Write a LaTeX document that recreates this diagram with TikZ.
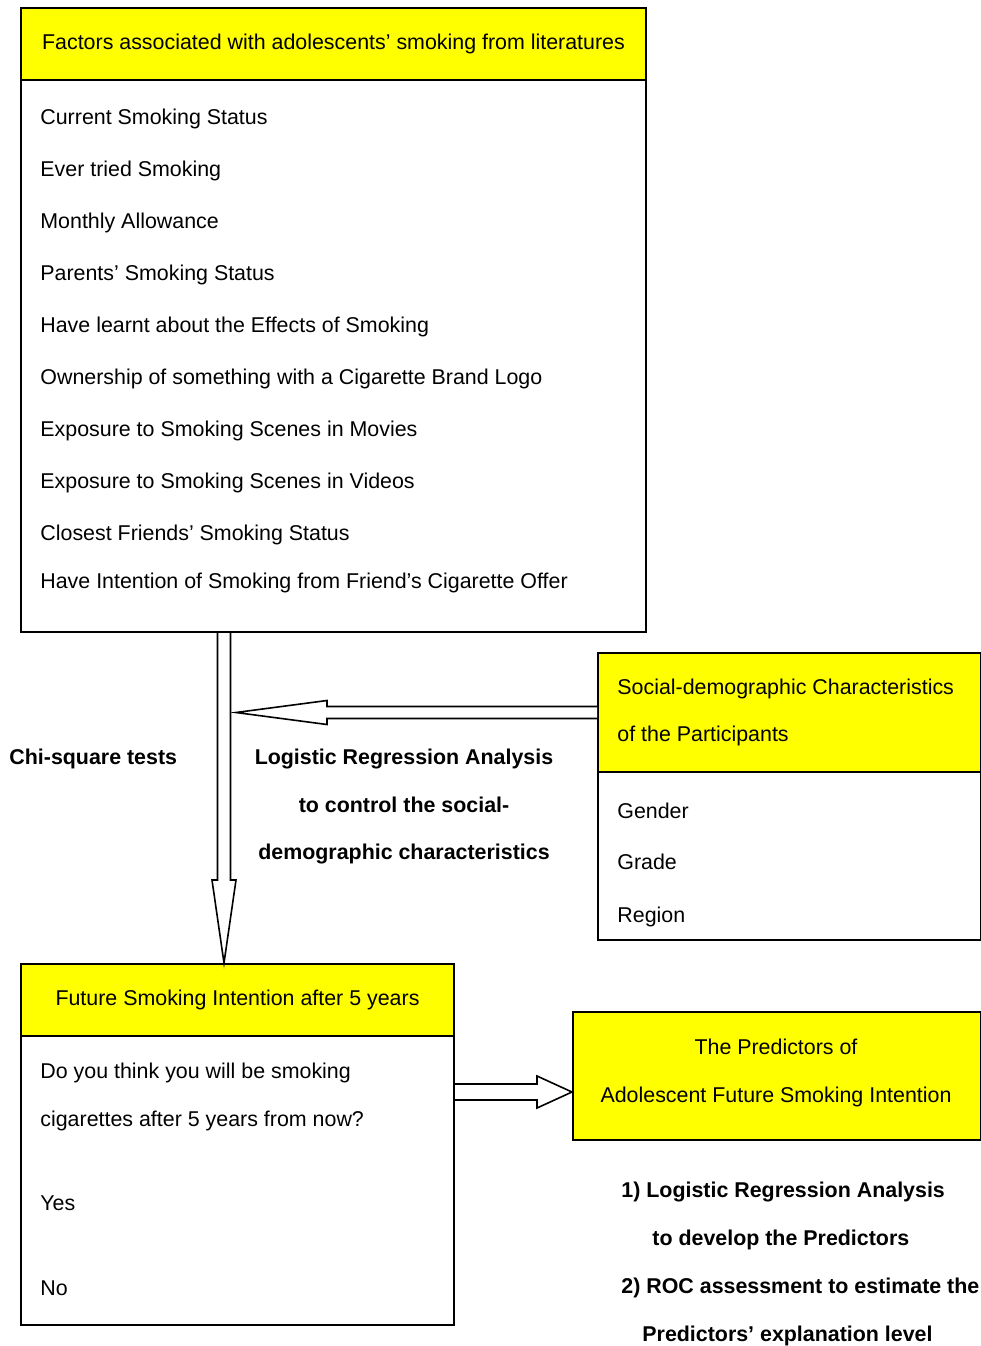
\documentclass[tikz,border=0pt]{standalone}
\usepackage{fontspec}
\setmainfont{Liberation Sans}
\usepackage{tikz}
\usetikzlibrary{positioning,calc}
\definecolor{hdyellow}{RGB}{255, 255, 0}
\newcommand{\pxl}{0.5pt}
\tikzstyle{headbox} = [draw=black, fill=hdyellow, line width=1pt, inner sep=0pt, anchor=north west]
\tikzstyle{bodybox} = [draw=black, fill=white, line width=1pt, inner sep=0pt, anchor=north west]
\tikzstyle{item} = [anchor=west, inner sep=0pt, text height=1.6ex, text depth=.4ex]
\tikzstyle{boldtext} = [font=\fontsize{10.7}{23.75}\selectfont\bfseries]
\tikzstyle{hollow} = [draw=black, fill=white, line width=0.8pt, line join=miter]

\begin{document}
\begin{tikzpicture}[x=0.5pt, y=-0.5pt, font=\fontsize{10.7}{13}\selectfont]
    \useasboundingbox (0,0) rectangle (981,1346);

    % factors from literatures
    \node[bodybox, minimum width=625*\pxl, minimum height=552*\pxl] (lit) at (20,79) {};
    \node[headbox, minimum width=625*\pxl, minimum height=72*\pxl] (lithead) at (20,7)
      {Factors associated with adolescents’ smoking from literatures};
    \foreach \y/\txt [count=\i] in {118/Current Smoking Status, 170/Ever tried Smoking,
        222/Monthly Allowance, 274/Parents’ Smoking Status,
        326/Have learnt about the Effects of Smoking,
        378/Ownership of something with a Cigarette Brand Logo,
        430/Exposure to Smoking Scenes in Movies,
        482/Exposure to Smoking Scenes in Videos,
        534/Closest Friends’ Smoking Status,
        582/Have Intention of Smoking from Friend’s Cigarette Offer} {
      \node[item] (lit\i) at (40,\y) {\txt};
    }

    % social-demographic characteristics
    \node[bodybox, minimum width=383*\pxl, minimum height=168*\pxl] (soc) at (597,771) {};
    \node[headbox, minimum width=383*\pxl, minimum height=119*\pxl] (sochead) at (597,652) {};
    \node[item] (soctitle1) at (617,688) {Social-demographic Characteristics};
    \node[item] (soctitle2) at (617,735) {of the Participants};
    \foreach \y/\txt [count=\i] in {812/Gender, 863/Grade, 916/Region} {
      \node[item] (soc\i) at (617,\y) {\txt};
    }

    % future smoking intention
    \node[bodybox, minimum width=433*\pxl, minimum height=289*\pxl] (fut) at (20,1035) {};
    \node[headbox, minimum width=433*\pxl, minimum height=72*\pxl] (futhead) at (20,963)
      {Future Smoking Intention after 5 years};
    \foreach \y/\txt [count=\i] in {1072/Do you think you will be smoking,
        1120/cigarettes after 5 years from now?, 1204/Yes, 1289/No} {
      \node[item] (fut\i) at (40,\y) {\txt};
    }

    % predictors
    \node[headbox, minimum width=408*\pxl, minimum height=128*\pxl] (pred) at (572,1011) {};
    \node[item, anchor=center] (predtitle1) at (776,1048) {The Predictors of};
    \node[item, anchor=center] (predtitle2) at (776,1096) {Adolescent Future Smoking Intention};

    % analysis labels
    \node[boldtext, item] (chi) at (9,758) {Chi-square tests};
    \node[boldtext, align=center] (logit) at (404,807)
      {Logistic Regression Analysis\\to control the social-\\demographic characteristics};
    \foreach \x/\y/\txt [count=\i] in {621/1191/1) Logistic Regression Analysis,
        652/1239/to develop the Predictors,
        621/1287/2) ROC assessment to estimate the,
        642/1335/Predictors’ explanation level} {
      \node[boldtext, item] (stage\i) at (\x,\y) {\txt};
    }

    % block arrows
    \coordinate (dntop) at ($(lit.south west)+(204,0)$);
    \coordinate (dntip) at ($(futhead.north west)+(204,0)$);
    \coordinate (ltail) at (sochead.west);
    \coordinate (ltip) at ($(sochead.west)+(-361,0)$);
    \coordinate (rtip) at ($(pred.west)+(0,16)$);
    \coordinate (rtail) at (fut.east |- rtip);

    \draw[hollow] ($(dntop)+(-6.5,0)$) -- ($(dntip)+(-6.5,-83)$) -- ($(dntip)+(-12,-83)$)
      -- (dntip) -- ($(dntip)+(12,-83)$) -- ($(dntip)+(6.5,-83)$) -- ($(dntop)+(6.5,0)$);
    \draw[hollow] ($(ltail)+(0,-6)$) -- ($(ltip)+(91,-6)$) -- ($(ltip)+(91,-12)$)
      -- (ltip) -- ($(ltip)+(91,12)$) -- ($(ltip)+(91,6)$) -- ($(ltail)+(0,6)$);
    \draw[hollow] ($(rtail)+(0,-8)$) -- ($(rtip)+(-35,-8)$) -- ($(rtip)+(-35,-16)$)
      -- (rtip) -- ($(rtip)+(-35,16)$) -- ($(rtip)+(-35,8)$) -- ($(rtail)+(0,8)$);
\end{tikzpicture}
\end{document}
